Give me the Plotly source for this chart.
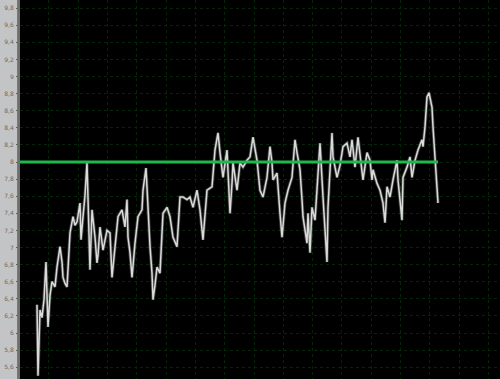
import plotly.graph_objects as go

# Annual mean temperature record (decimal years, degrees C)
years = [
    1850.0, 1850.4, 1851.2, 1852.0, 1852.8, 1853.6, 1854.4, 1855.2, 1856.0, 1857.2,
    1858.0, 1859.2, 1860.0, 1860.4, 1861.2, 1862.0, 1863.2, 1864.4, 1865.2, 1866.0,
    1867.2, 1867.6, 1868.4, 1869.2, 1870.0, 1870.8, 1871.2, 1872.0, 1873.2, 1874.0,
    1874.4, 1875.2, 1876.4, 1878.0, 1879.2, 1880.0, 1881.2, 1882.4, 1884.0, 1885.2,
    1886.0, 1886.4, 1887.2, 1888.0, 1889.2, 1890.4, 1892.0, 1892.4, 1893.6, 1894.4,
    1895.2, 1896.0, 1896.4, 1897.2, 1898.0, 1899.2, 1900.4, 1902.0, 1903.2, 1904.4,
    1906.0, 1907.2, 1908.4, 1910.0, 1911.2, 1912.4, 1914.0, 1915.2, 1916.4, 1918.0,
    1919.2, 1920.0, 1921.2, 1922.4, 1923.2, 1924.4, 1926.0, 1927.2, 1928.0, 1928.4,
    1930.0, 1931.2, 1932.4, 1934.0, 1935.2, 1936.4, 1938.0, 1939.2, 1940.4, 1942.0,
    1943.2, 1944.0, 1944.4, 1946.0, 1947.2, 1948.0, 1949.2, 1950.4, 1952.0, 1953.2,
    1954.0, 1955.2, 1956.0, 1956.4, 1958.0, 1958.4, 1959.2, 1960.0, 1961.2, 1962.4,
    1963.2, 1964.4, 1966.0, 1966.4, 1968.0, 1968.4, 1970.0, 1971.2, 1972.4, 1974.0,
    1975.2, 1976.0, 1977.2, 1978.4, 1979.2, 1980.4, 1982.0, 1983.2, 1984.0, 1984.4,
    1986.0, 1987.2, 1988.4, 1989.2, 1990.0, 1991.2, 1992.4, 1994.0, 1994.4, 1996.0,
    1996.4, 1998.0, 1999.2, 2000.0, 2001.2, 2002.4, 2004.0, 2004.4, 2005.2, 2006.0,
    2006.8, 2008.0, 2008.4, 2009.6, 2010.4,
]
temps = [
    6.33, 5.50, 6.27, 6.18, 6.39, 6.83, 6.07, 6.44, 6.60, 6.54,
    6.77, 7.01, 6.83, 6.65, 6.58, 6.54, 7.17, 7.36, 7.26, 7.30,
    7.52, 7.09, 7.36, 7.61, 7.99, 7.20, 6.74, 7.44, 7.12, 6.82,
    6.91, 7.24, 6.97, 7.20, 7.17, 6.65, 6.97, 7.36, 7.44, 7.24,
    7.56, 7.12, 6.94, 6.65, 7.05, 7.36, 7.44, 7.67, 7.93, 7.44,
    7.01, 6.70, 6.39, 6.56, 6.77, 6.70, 7.40, 7.47, 7.36, 7.12,
    7.01, 7.59, 7.59, 7.56, 7.59, 7.47, 7.67, 7.44, 7.09, 7.67,
    7.70, 7.71, 8.14, 8.34, 8.11, 7.82, 8.14, 7.40, 7.75, 7.99,
    7.67, 7.99, 7.94, 8.02, 8.06, 8.29, 8.02, 7.67, 7.59, 7.82,
    8.18, 7.99, 7.79, 7.87, 7.40, 7.12, 7.52, 7.67, 7.82, 8.26,
    8.11, 7.91, 7.56, 7.36, 7.05, 7.40, 6.94, 7.47, 7.32, 7.79,
    8.22, 7.59, 6.83, 7.47, 8.34, 8.06, 7.82, 7.96, 8.18, 8.22,
    8.06, 8.26, 7.94, 8.29, 8.06, 7.79, 8.11, 8.02, 7.79, 7.91,
    7.75, 7.67, 7.52, 7.29, 7.71, 7.59, 7.79, 8.02, 7.79, 7.32,
    7.82, 7.94, 8.06, 7.82, 8.02, 8.14, 8.26, 8.18, 8.41, 8.76,
    8.81, 8.64, 8.41, 7.79, 7.52,
]

# Long-term mean drawn as a reference line
mean_temp = 8.0

# Axis tick labels (decimal comma)
tick_values = [5.6, 5.8, 6.0, 6.2, 6.4, 6.6, 6.8, 7.0, 7.2, 7.4, 7.6, 7.8,
               8.0, 8.2, 8.4, 8.6, 8.8, 9.0, 9.2, 9.4, 9.6, 9.8]
tick_labels = ["5,6", "5,8", "6", "6,2", "6,4", "6,6", "6,8", "7", "7,2", "7,4", "7,6", "7,8",
               "8", "8,2", "8,4", "8,6", "8,8", "9", "9,2", "9,4", "9,6", "9,8"]

x_range = [1843.2, 2035.2]
y_range = [5.462, 9.895]

fig = go.Figure()

# Soft halo under the temperature curve
fig.add_trace(go.Scatter(
    x=years, y=temps, mode="lines",
    line=dict(color="rgba(140,140,140,0.45)", width=3.2),
    hoverinfo="skip", showlegend=False,
))
fig.add_trace(go.Scatter(
    x=years, y=temps, mode="lines",
    line=dict(color="#dadada", width=1.5),
    hoverinfo="skip", showlegend=False,
))

# Mean line from the left edge to the end of the record
fig.add_shape(
    type="line", xref="x", yref="y",
    x0=x_range[0], x1=years[-1], y0=mean_temp, y1=mean_temp,
    line=dict(color="#1fb84c", width=3.2), layer="above",
)

# Dark separator between the label strip and the plotting area
fig.add_shape(
    type="rect", xref="paper", yref="paper",
    x0=-0.006, x1=0.0, y0=0, y1=1,
    line=dict(width=0), fillcolor="#6e7070", layer="above",
)

fig.update_layout(
    width=500, height=379,
    margin=dict(l=20, r=0, t=0, b=0),
    paper_bgcolor="#c3c4c6",
    plot_bgcolor="#000000",
    showlegend=False,
    xaxis=dict(
        range=x_range, showticklabels=False, ticks="", zeroline=False,
        showgrid=True, gridcolor="#062309", griddash="dot", gridwidth=1,
        tick0=1936.8, dtick=11.72, showline=False,
    ),
    yaxis=dict(
        range=y_range, tickvals=tick_values, ticktext=tick_labels,
        ticks="outside", ticklen=3, tickcolor="#5a5a5a", tickwidth=1,
        tickfont=dict(family="DejaVu Sans", size=6, color="#6a6a6a"),
        ticklabelstandoff=1,
        showgrid=True, gridcolor="#06250b", griddash="dot", gridwidth=1,
        zeroline=False, showline=False,
    ),
)

fig.write_html("out.html")
